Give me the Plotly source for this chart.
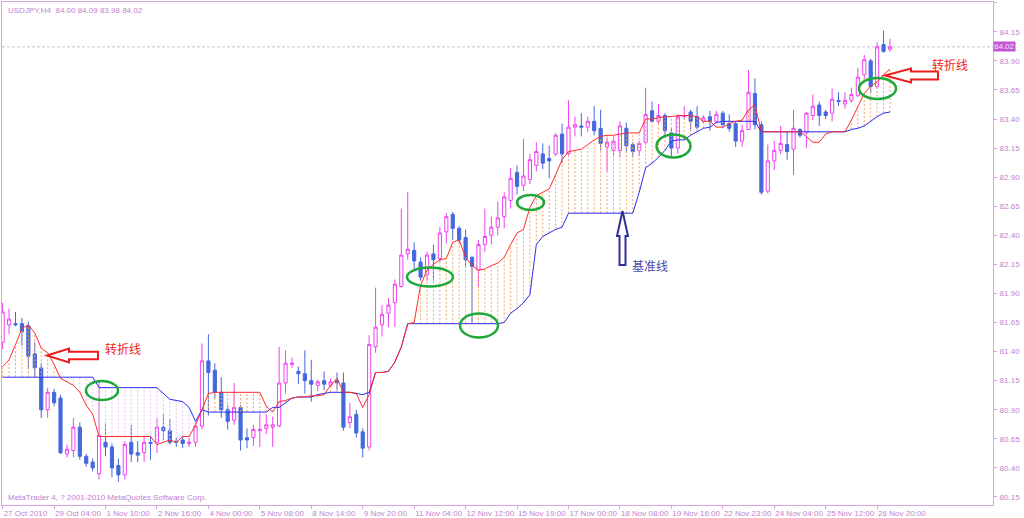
import plotly.graph_objects as go

# ---------------- data ----------------
bars = list(range(139))
tick_bars = [0, 8, 16, 24, 32, 40, 48, 56, 64, 72, 80, 88, 96, 104, 112, 120, 128, 136]
tick_labels = ["27 Oct 2010", "29 Oct 04:00", "1 Nov 10:00", "2 Nov 16:00", "4 Nov 00:00",
               "5 Nov 08:00", "8 Nov 14:00", "9 Nov 20:00", "11 Nov 04:00", "12 Nov 12:00",
               "15 Nov 19:00", "17 Nov 00:00", "18 Nov 08:00", "19 Nov 16:00", "22 Nov 23:00",
               "24 Nov 04:00", "25 Nov 12:00", "26 Nov 20:00"]
price_ticks = [80.15, 80.40, 80.65, 80.90, 81.15, 81.40, 81.65, 81.90, 82.15, 82.40,
               82.65, 82.90, 83.15, 83.40, 83.65, 83.90, 84.15, 84.40]

open_ = [81.48, 81.63, 81.64, 81.64, 81.62, 81.38, 81.26, 80.90, 81.05, 81.00,
         80.52, 80.55, 80.75, 80.50, 80.45, 80.35, 80.62, 80.58, 80.42, 80.34,
         80.62, 80.53, 80.53, 80.62, 80.62, 80.75, 80.72, 80.63, 80.64, 80.61,
         80.62, 80.76, 81.32, 81.24, 81.05, 80.90, 80.81, 80.92, 80.66, 80.66,
         80.72, 80.74, 80.75, 80.76, 81.13, 81.29, 81.23, 81.21, 81.15, 81.11,
         81.15, 81.11, 81.15, 81.13, 80.79, 80.86, 80.71, 80.58, 81.44, 81.63,
         81.73, 81.82, 81.96, 82.24, 82.27, 82.17, 82.06, 82.24, 82.20, 82.43,
         82.58, 82.46, 82.38, 82.21, 82.10, 82.32, 82.40, 82.47, 82.56, 82.70,
         82.94, 82.83, 82.88, 83.00, 83.10, 83.06, 83.10, 83.27, 83.10, 83.33,
         83.34, 83.33, 83.38, 83.32, 83.16, 83.13, 83.13, 83.32, 83.18, 83.13,
         83.20, 83.47, 83.38, 83.43, 83.28, 83.15, 83.42, 83.46, 83.42, 83.38,
         83.42, 83.38, 83.45, 83.36, 83.36, 83.21, 83.31, 83.62, 83.35, 82.78,
         83.04, 83.13, 83.18, 83.14, 83.31, 83.28, 83.43, 83.52, 83.46, 83.45,
         83.56, 83.53, 83.56, 83.60, 83.78, 83.90, 83.68, 84.04, 84.00]
high = [81.82, 81.77, 81.74, 81.69, 81.66, 81.48, 81.30, 81.09, 81.08, 81.03,
        80.60, 80.83, 80.79, 80.52, 80.48, 81.13, 80.79, 80.61, 80.48, 80.63,
        80.77, 80.63, 80.67, 80.68, 80.83, 80.86, 80.82, 80.66, 80.68, 80.66,
        80.79, 81.47, 81.55, 81.30, 81.18, 80.94, 81.13, 80.94, 80.74, 80.77,
        80.87, 80.86, 80.84, 81.44, 81.41, 81.35, 81.27, 81.41, 81.33, 81.16,
        81.23, 81.17, 81.22, 81.22, 80.96, 80.90, 80.74, 81.54, 81.95, 81.80,
        81.86, 82.02, 82.63, 82.77, 82.34, 82.21, 82.26, 82.32, 82.47, 82.59,
        82.60, 82.48, 82.45, 82.22, 82.36, 82.63, 82.56, 82.69, 82.77, 82.98,
        83.00, 83.23, 83.10, 83.20, 83.19, 83.17, 83.28, 83.36, 83.56, 83.42,
        83.45, 83.42, 83.51, 83.48, 83.24, 83.24, 83.38, 83.37, 83.20, 83.21,
        83.67, 83.55, 83.53, 83.45, 83.32, 83.44, 83.51, 83.48, 83.51, 83.43,
        83.47, 83.47, 83.47, 83.44, 83.38, 83.35, 83.82, 83.75, 83.38, 83.18,
        83.21, 83.34, 83.29, 83.48, 83.32, 83.46, 83.61, 83.55, 83.48, 83.66,
        83.63, 83.63, 83.67, 83.84, 83.95, 83.92, 84.06, 84.16, 84.09]
low = [81.42, 81.55, 81.62, 81.45, 81.25, 81.18, 80.83, 80.83, 80.93, 80.52,
       80.49, 80.49, 80.47, 80.41, 80.37, 80.30, 80.50, 80.32, 80.28, 80.30,
       80.45, 80.45, 80.45, 80.47, 80.53, 80.64, 80.60, 80.58, 80.57, 80.58,
       80.58, 80.73, 80.85, 81.00, 80.83, 80.73, 80.77, 80.55, 80.57, 80.59,
       80.58, 80.69, 80.58, 80.75, 81.04, 81.26, 81.12, 81.04, 80.97, 81.06,
       81.07, 81.09, 81.07, 80.72, 80.74, 80.66, 80.49, 80.55, 81.39, 81.53,
       81.61, 81.61, 81.95, 82.19, 82.10, 82.01, 82.01, 82.01, 82.17, 82.33,
       82.36, 82.33, 82.12, 81.65, 81.96, 82.26, 82.32, 82.40, 82.46, 82.63,
       82.75, 82.78, 82.84, 82.95, 82.97, 82.89, 83.08, 83.02, 83.09, 83.25,
       83.25, 83.29, 83.26, 83.13, 82.95, 83.07, 83.07, 83.11, 83.07, 83.08,
       83.18, 83.37, 83.36, 83.24, 83.07, 83.10, 83.40, 83.30, 83.31, 83.36,
       83.30, 83.36, 83.32, 83.29, 83.16, 83.16, 83.31, 83.31, 82.75, 82.76,
       82.96, 83.10, 83.05, 82.92, 83.24, 83.15, 83.39, 83.34, 83.40, 83.38,
       83.51, 83.49, 83.54, 83.59, 83.74, 83.62, 83.66, 83.97, 83.98]
close = [81.74, 81.68, 81.63, 81.57, 81.36, 81.26, 80.90, 81.05, 80.96, 80.53,
         80.56, 80.75, 80.50, 80.44, 80.40, 80.68, 80.58, 80.40, 80.34, 80.60,
         80.52, 80.51, 80.62, 80.61, 80.75, 80.72, 80.62, 80.62, 80.61, 80.62,
         80.76, 81.32, 81.22, 81.05, 80.90, 80.80, 80.92, 80.64, 80.64, 80.73,
         80.73, 80.77, 80.77, 81.13, 81.30, 81.30, 81.21, 81.15, 81.12, 81.14,
         81.12, 81.14, 81.13, 80.75, 80.84, 80.70, 80.57, 81.46, 81.61, 81.72,
         81.80, 81.98, 82.23, 82.28, 82.18, 82.04, 82.23, 82.19, 82.42, 82.56,
         82.46, 82.36, 82.19, 82.13, 82.32, 82.39, 82.47, 82.55, 82.73, 82.89,
         82.82, 82.91, 83.05, 83.12, 83.02, 83.04, 83.26, 83.10, 83.33, 83.35,
         83.33, 83.38, 83.30, 83.19, 83.20, 83.21, 83.34, 83.17, 83.12, 83.19,
         83.44, 83.38, 83.43, 83.30, 83.15, 83.42, 83.43, 83.38, 83.33, 83.41,
         83.38, 83.44, 83.35, 83.32, 83.21, 83.30, 83.63, 83.35, 82.77, 83.04,
         83.13, 83.19, 83.12, 83.32, 83.26, 83.45, 83.51, 83.43, 83.43, 83.57,
         83.55, 83.56, 83.61, 83.76, 83.91, 83.68, 84.02, 83.98, 84.02]
tenkan = [81.27, 81.33, 81.46, 81.60, 81.63, 81.56, 81.43, 81.39, 81.29, 81.17,
          81.14, 81.11, 81.05, 80.94, 80.86, 80.67, 80.67, 80.67, 80.67, 80.67,
          80.67, 80.67, 80.67, 80.67, 80.60, 80.62, 80.64, 80.62, 80.67, 80.67,
          80.77, 80.90, 81.04, 81.05, 81.05, 81.05, 81.05, 81.05, 81.05, 81.05,
          81.05, 80.93, 80.88, 80.97, 80.98, 81.00, 81.01, 81.01, 81.02, 81.02,
          81.03, 81.11, 81.17, 81.05, 81.05, 81.04, 80.92, 81.03, 81.22, 81.22,
          81.23, 81.31, 81.44, 81.64, 81.65, 81.97, 82.10, 82.15, 82.19, 82.20,
          82.34, 82.36, 82.21, 82.14, 82.10, 82.11, 82.14, 82.16, 82.21, 82.32,
          82.42, 82.45, 82.64, 82.74, 82.77, 82.80, 82.92, 83.05, 83.12, 83.13,
          83.14, 83.18, 83.22, 83.25, 83.26, 83.26, 83.27, 83.28, 83.28, 83.28,
          83.40, 83.40, 83.41, 83.42, 83.42, 83.43, 83.43, 83.43, 83.42, 83.38,
          83.38, 83.33, 83.33, 83.36, 83.38, 83.39, 83.48, 83.52, 83.29, 83.29,
          83.29, 83.29, 83.29, 83.29, 83.29, 83.25, 83.20, 83.20, 83.27, 83.29,
          83.29, 83.29, 83.39, 83.50, 83.62, 83.68, 83.72, 83.78, 83.83]
kijun = [81.18, 81.18, 81.18, 81.18, 81.18, 81.18, 81.18, 81.18, 81.18, 81.18,
         81.18, 81.18, 81.18, 81.18, 81.18, 81.09, 81.09, 81.09, 81.09, 81.09,
         81.09, 81.09, 81.09, 81.09, 81.09, 81.04, 80.99, 80.98, 80.97, 80.92,
         80.80, 80.90, 80.88, 80.88, 80.88, 80.88, 80.88, 80.88, 80.88, 80.88,
         80.88, 80.88, 80.92, 80.92, 80.96, 81.00, 81.01, 81.01, 81.01, 81.03,
         81.04, 81.05, 81.05, 81.05, 81.05, 81.04, 81.03, 81.05, 81.22, 81.22,
         81.23, 81.31, 81.44, 81.64, 81.64, 81.64, 81.64, 81.64, 81.64, 81.64,
         81.64, 81.64, 81.64, 81.64, 81.64, 81.64, 81.64, 81.64, 81.65, 81.73,
         81.77, 81.82, 81.89, 82.32, 82.39, 82.42, 82.45, 82.47, 82.59, 82.59,
         82.59, 82.59, 82.59, 82.59, 82.59, 82.59, 82.59, 82.59, 82.59, 82.77,
         82.98, 83.02, 83.07, 83.13, 83.21, 83.22, 83.22, 83.26, 83.29, 83.32,
         83.33, 83.37, 83.38, 83.38, 83.38, 83.38, 83.38, 83.38, 83.29, 83.29,
         83.29, 83.29, 83.29, 83.29, 83.29, 83.29, 83.29, 83.29, 83.29, 83.29,
         83.29, 83.29, 83.31, 83.32, 83.34, 83.38, 83.42, 83.45, 83.46]

title_text = "USDJPY,H4  84.00 84.09 83.98 84.02"
footer_text = "MetaTrader 4, ? 2001-2010 MetaQuotes Software Corp."
label_tenkan = "转折线"
label_kijun = "基准线"

# ---------------- layout constants ----------------
W, H = 1024, 518
ML, MR, MT, MB = 2, 31, 2, 13
PW, PH = W - ML - MR, H - MT - MB
FRAME = "#D9A3E3"
TXT = "#BF7FD0"
FONT = "Liberation Sans"


def px(xp):
    return (xp - ML) / PW


def py(yp):
    return 1 - (yp - MT) / PH


fig = go.Figure()

# hatching between tenkan and kijun
ox, oy, tx, ty = [], [], [], []
for i, (t, k) in enumerate(zip(tenkan, kijun)):
    if t > k:
        ox += [i, i, None]
        oy += [k, t, None]
    elif k > t:
        tx += [i, i, None]
        ty += [t, k, None]
fig.add_trace(go.Scatter(x=ox, y=oy, mode="lines", hoverinfo="skip", showlegend=False,
                         line=dict(color="#F2A462", width=1, dash="2px,2px")))
fig.add_trace(go.Scatter(x=tx, y=ty, mode="lines", hoverinfo="skip", showlegend=False,
                         line=dict(color="#E2C2E6", width=1, dash="2px,2px")))

# candles
fig.add_trace(go.Candlestick(
    x=bars, open=open_, high=high, low=low, close=close,
    increasing=dict(line=dict(color="#F040F0", width=1), fillcolor="#FFFFFF"),
    decreasing=dict(line=dict(color="#4468DC", width=1), fillcolor="#4468DC"),
    whiskerwidth=0, hoverinfo="skip", showlegend=False))

# lines
fig.add_trace(go.Scatter(x=bars, y=kijun, mode="lines", hoverinfo="skip", showlegend=False,
                         line=dict(color="#2B2BF0", width=1)))
fig.add_trace(go.Scatter(x=bars, y=tenkan, mode="lines", hoverinfo="skip", showlegend=False,
                         line=dict(color="#FF2A2A", width=1)))

shapes = []
# current price line
shapes.append(dict(type="line", xref="paper", yref="y", x0=0, x1=1, y0=close[-1], y1=close[-1],
                   line=dict(color="#C8C4D8", width=1, dash="3px,2px"), layer="below"))

# green ellipses (pixel geometry)
for cx, cy, rx, ry in [(102, 390.5, 16, 9.5), (430, 277, 23, 9.5), (479, 325.5, 19, 12),
                       (530.5, 202.5, 13.5, 7.5), (673.5, 146, 17, 11.5), (877.5, 88.5, 18.5, 10.5)]:
    shapes.append(dict(type="circle", xref="paper", yref="paper",
                       x0=px(cx - rx), x1=px(cx + rx), y0=py(cy + ry), y1=py(cy - ry),
                       line=dict(color="#1FA83A", width=2.5)))


def left_arrow(tipx, tipy, hl, hh, sh, tail):
    pts = [(tipx, tipy), (tipx + hl, tipy - hh), (tipx + hl, tipy - sh), (tail, tipy - sh),
           (tail, tipy + sh), (tipx + hl, tipy + sh), (tipx + hl, tipy + hh)]
    return "M " + " L ".join(f"{px(a):.5f},{py(b):.5f}" for a, b in pts) + " Z"


def up_arrow(tipx, tipy, hl, hw, sw, tail):
    pts = [(tipx, tipy), (tipx + hw, tipy + hl), (tipx + sw, tipy + hl), (tipx + sw, tail),
           (tipx - sw, tail), (tipx - sw, tipy + hl), (tipx - hw, tipy + hl)]
    return "M " + " L ".join(f"{px(a):.5f},{py(b):.5f}" for a, b in pts) + " Z"


shapes.append(dict(type="path", xref="paper", yref="paper", path=left_arrow(47, 355.5, 22, 7, 3.8, 98),
                   line=dict(color="#EE1C1C", width=2), fillcolor="rgba(255,255,255,0.9)"))
shapes.append(dict(type="path", xref="paper", yref="paper", path=left_arrow(885, 75.5, 26, 7, 4, 938),
                   line=dict(color="#EE1C1C", width=2), fillcolor="rgba(255,255,255,0.9)"))
shapes.append(dict(type="path", xref="paper", yref="paper", path=up_arrow(622.5, 211, 25, 5.5, 3, 265),
                   line=dict(color="#30309A", width=2), fillcolor="rgba(255,255,255,0.9)"))

annotations = [
    dict(xref="paper", yref="paper", x=px(6), y=py(4), xanchor="left", yanchor="top",
         text=title_text, showarrow=False, font=dict(family=FONT, size=8, color=TXT)),
    dict(xref="paper", yref="paper", x=px(6), y=py(491), xanchor="left", yanchor="top",
         text=footer_text, showarrow=False, font=dict(family=FONT, size=8, color=TXT)),
    dict(xref="paper", yref="paper", x=px(123), y=py(348), xanchor="center", yanchor="middle",
         text=label_tenkan, showarrow=False, font=dict(family="Noto Sans CJK SC", size=12, color="#EE2222")),
    dict(xref="paper", yref="paper", x=px(950), y=py(64), xanchor="center", yanchor="middle",
         text=label_tenkan, showarrow=False, font=dict(family="Noto Sans CJK SC", size=12, color="#EE2222")),
    dict(xref="paper", yref="paper", x=px(650), y=py(265), xanchor="center", yanchor="middle",
         text=label_kijun, showarrow=False, font=dict(family="Noto Sans CJK SC", size=12, color="#4A4AA8")),
    dict(xref="paper", yref="y", x=1.0, y=close[-1], xanchor="left", yanchor="middle",
         text=f"{close[-1]:.2f}", showarrow=False, bgcolor="#C255D6", borderpad=0,
         font=dict(family=FONT, size=8, color="#F6E6F8")),
]

y_top = 84.406
y_bot = 80.081
x_left = -0.1
x_right = x_left + PW / 6.43

fig.update_layout(
    width=W, height=H, margin=dict(l=ML, r=MR, t=MT, b=MB, autoexpand=False),
    paper_bgcolor="white", plot_bgcolor="white", showlegend=False,
    shapes=shapes, annotations=annotations, hovermode=False,
    xaxis=dict(range=[x_left, x_right], rangeslider=dict(visible=False), showgrid=False, zeroline=False,
               showline=True, mirror=True, linecolor=FRAME, linewidth=1, automargin=False,
               tickmode="array", tickvals=tick_bars, ticktext=tick_labels, tickangle=0,
               ticks="outside", ticklen=3, tickcolor=FRAME, ticklabelposition="outside right",
               ticklabelstandoff=0,
               tickfont=dict(family=FONT, size=8, color=TXT)),
    yaxis=dict(range=[y_bot, y_top], side="right", showgrid=False, zeroline=False,
               showline=True, mirror=True, linecolor=FRAME, linewidth=1, automargin=False,
               tickmode="array", tickvals=price_ticks, ticktext=[f"{v:.2f}" for v in price_ticks],
               ticks="outside", ticklen=3, tickcolor=FRAME, ticklabelstandoff=1,
               tickfont=dict(family=FONT, size=8, color=TXT)),
)

fig.write_html("out.html", config={"displayModeBar": False},
               post_script="document.body.style.margin='0';document.body.style.overflow='hidden';")
